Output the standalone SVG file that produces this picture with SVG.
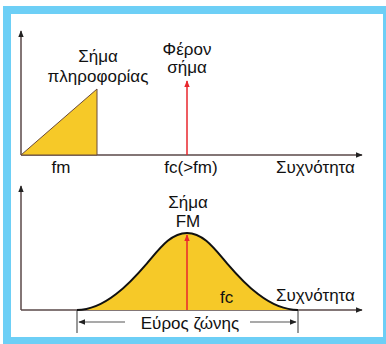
<svg xmlns="http://www.w3.org/2000/svg" width="386" height="344" viewBox="0 0 386 344">
<defs>
<style>
text{font-family:"Liberation Sans",Arial,sans-serif;font-size:17px;fill:#111;}
.mid{text-anchor:middle;}
.axis{stroke:#5a4848;stroke-width:1.5;fill:none;}
.red{stroke:#e8262c;stroke-width:1.5;fill:none;}
.dim{stroke:#555;stroke-width:1.2;fill:none;}
.yel{fill:#f6c928;}
</style>
<marker id="ah" viewBox="0 0 10 10" refX="9" refY="5" markerWidth="7" markerHeight="7" orient="auto" markerUnits="userSpaceOnUse"><path d="M0,1 L10,5 L0,9 Z" fill="#222"/></marker>
<marker id="ahr" viewBox="0 0 10 10" refX="9" refY="5" markerWidth="7" markerHeight="7" orient="auto" markerUnits="userSpaceOnUse"><path d="M0,1 L10,5 L0,9 Z" fill="#e8262c"/></marker>
</defs>
<rect x="0" y="0" width="386" height="344" fill="#fff"/>
<rect x="3" y="6" width="383" height="338" fill="#6dcff6"/>
<rect x="11" y="14" width="372" height="323" fill="#fff"/>

<g id="connectors">
<line class="axis" x1="21" y1="155" x2="21" y2="31" marker-end="url(#ah)"/>
<line class="axis" x1="21" y1="155" x2="362" y2="155" marker-end="url(#ah)"/>
<line class="axis" x1="21" y1="310" x2="21" y2="186" marker-end="url(#ah)"/>
<line class="axis" x1="21" y1="310" x2="362" y2="310" marker-end="url(#ah)"/>
<line class="red" x1="187" y1="155" x2="187" y2="81" marker-end="url(#ahr)"/>
<line class="dim" x1="77" y1="310" x2="77" y2="333"/>
<line class="dim" x1="298" y1="310" x2="298" y2="333"/>
<line class="dim" x1="125" y1="322" x2="79" y2="322" marker-end="url(#ah)"/>
<line class="dim" x1="250" y1="322" x2="296" y2="322" marker-end="url(#ah)"/>
</g>

<g id="info-signal">
<path class="yel" d="M21,155 L97,89 L97,155 Z" stroke="#6b4a3a" stroke-width="1"/>
<text class="mid" x="98" y="62">Σήμα</text>
<text class="mid" x="98" y="82">πληροφορίας</text>
</g>

<g id="carrier">
<text class="mid" x="187" y="55">Φέρον</text>
<text class="mid" x="187" y="73">σήμα</text>
</g>

<g id="top-labels">
<text class="mid" x="61" y="173">fm</text>
<text class="mid" x="191" y="173">fc(&gt;fm)</text>
<text x="276" y="173">Συχνότητα</text>
</g>

<g id="fm-signal">
<path class="yel" d="M77,310 C105,310 130,283.1 147,263.3 C160,248.1 171,233 187,233 C203,233 214,248.1 227,263.3 C244,283.1 269,310 298,310 Z"/>
<path d="M77,310 C105,310 130,283.1 147,263.3 C160,248.1 171,233 187,233 C203,233 214,248.1 227,263.3 C244,283.1 269,310 298,310" fill="none" stroke="#111" stroke-width="2"/>
<line class="red" x1="187" y1="310" x2="187" y2="235" marker-end="url(#ahr)"/>
<text class="mid" x="188" y="208">Σήμα</text>
<text class="mid" x="188" y="227">FM</text>
<text x="220" y="303">fc</text>
<text x="276" y="301">Συχνότητα</text>
<text class="mid" x="190" y="329">Εύρος ζώνης</text>
</g>
</svg>
